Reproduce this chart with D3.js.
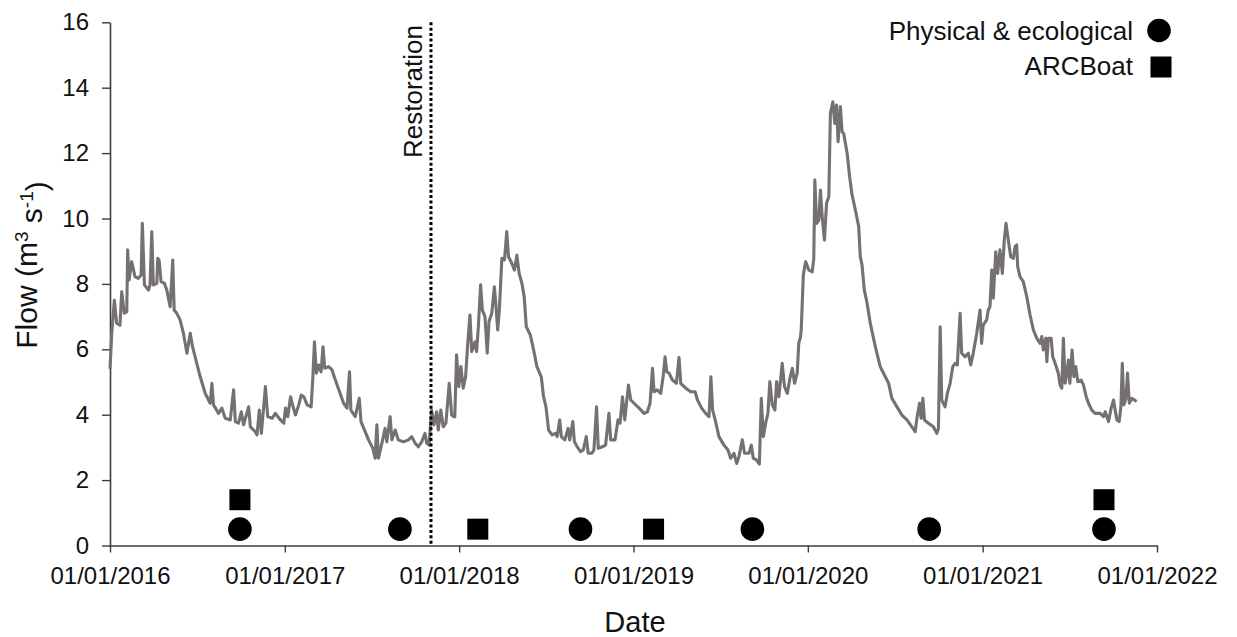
<!DOCTYPE html>
<html>
<head>
<meta charset="utf-8">
<script src="https://cdn.jsdelivr.net/npm/d3@7"></script>
<style>
  html, body { margin: 0; padding: 0; background: #fff; }
  svg { display: block; font-family: "Liberation Sans", Arial, sans-serif; }
</style>
</head>
<body>
<svg id="chart" width="1237" height="637"></svg>
<script>
// Daily river flow (m3 s-1), as [decimal year, flow] pairs, one list per year
const flow2016 = [
  [2016.000, 5.40], [2016.010, 6.49], [2016.025, 7.50], [2016.038, 6.80], [2016.057, 6.74],
  [2016.067, 7.76], [2016.082, 7.10], [2016.096, 7.15], [2016.101, 9.04], [2016.109, 8.12],
  [2016.124, 8.68], [2016.143, 8.22], [2016.162, 8.17], [2016.178, 8.27], [2016.185, 9.85],
  [2016.197, 7.97], [2016.220, 7.81], [2016.229, 7.97], [2016.239, 9.60], [2016.248, 7.97],
  [2016.268, 8.02], [2016.273, 8.78], [2016.281, 8.73], [2016.292, 8.07], [2016.311, 8.02],
  [2016.325, 7.81], [2016.344, 7.30], [2016.359, 8.73], [2016.367, 7.20], [2016.382, 7.10],
  [2016.401, 6.90], [2016.420, 6.49], [2016.440, 5.88], [2016.459, 6.49], [2016.472, 6.08],
  [2016.487, 5.77], [2016.516, 5.16], [2016.545, 4.65], [2016.573, 4.35], [2016.583, 4.96],
  [2016.592, 4.30], [2016.621, 4.04], [2016.640, 4.20], [2016.659, 3.89], [2016.688, 3.84],
  [2016.707, 4.76], [2016.717, 3.79], [2016.735, 3.74], [2016.751, 4.09], [2016.764, 3.69],
  [2016.793, 4.24], [2016.803, 3.63], [2016.831, 3.48], [2016.841, 3.38], [2016.854, 4.14],
  [2016.866, 3.43], [2016.889, 4.86], [2016.902, 3.94], [2016.927, 3.89], [2016.946, 4.04],
  [2016.975, 3.84], [2016.994, 3.74]
];
const flow2017 = [
  [2017.004, 4.20], [2017.017, 3.94], [2017.033, 4.55], [2017.042, 4.35], [2017.061, 3.99],
  [2017.080, 4.30], [2017.094, 4.60], [2017.109, 4.55], [2017.128, 4.30], [2017.151, 4.24],
  [2017.160, 5.06], [2017.170, 6.23], [2017.181, 5.27], [2017.194, 5.52], [2017.208, 5.31],
  [2017.219, 6.08], [2017.229, 5.42], [2017.251, 5.47], [2017.271, 5.37], [2017.290, 5.06],
  [2017.314, 4.70], [2017.337, 4.35], [2017.357, 4.20], [2017.371, 5.31], [2017.379, 4.14],
  [2017.404, 3.94], [2017.427, 4.50], [2017.437, 3.79], [2017.461, 3.48], [2017.480, 3.23],
  [2017.505, 2.97], [2017.518, 2.67], [2017.528, 3.69], [2017.537, 2.67], [2017.557, 3.13],
  [2017.575, 3.58], [2017.585, 3.17], [2017.604, 3.94], [2017.614, 3.23], [2017.633, 3.53],
  [2017.651, 3.23], [2017.680, 3.17], [2017.709, 3.23], [2017.728, 3.33], [2017.747, 3.13],
  [2017.766, 3.02], [2017.785, 3.17], [2017.804, 3.43], [2017.814, 3.13], [2017.827, 3.07],
  [2017.842, 4.14], [2017.855, 3.69], [2017.871, 4.09], [2017.880, 3.53], [2017.895, 4.14],
  [2017.909, 3.63], [2017.924, 3.74], [2017.943, 4.96], [2017.957, 3.99], [2017.970, 3.94],
  [2017.975, 3.94], [2017.985, 5.83], [2017.998, 4.86]
];
const flow2018 = [
  [2018.010, 5.47], [2018.023, 4.81], [2018.037, 5.16], [2018.048, 6.08], [2018.062, 7.05],
  [2018.072, 5.93], [2018.091, 6.23], [2018.100, 5.93], [2018.110, 6.69], [2018.123, 7.97],
  [2018.133, 7.20], [2018.148, 7.00], [2018.161, 5.88], [2018.171, 6.84], [2018.187, 7.10],
  [2018.202, 7.91], [2018.210, 7.41], [2018.221, 6.59], [2018.231, 7.25], [2018.245, 8.78],
  [2018.260, 8.73], [2018.273, 9.60], [2018.283, 8.83], [2018.302, 8.63], [2018.317, 8.42],
  [2018.331, 8.88], [2018.344, 8.32], [2018.360, 8.02], [2018.373, 7.61], [2018.385, 6.69],
  [2018.408, 6.44], [2018.427, 5.98], [2018.446, 5.47], [2018.471, 5.16], [2018.484, 4.55],
  [2018.498, 4.24], [2018.513, 3.53], [2018.533, 3.38], [2018.552, 3.43], [2018.562, 3.33],
  [2018.577, 3.84], [2018.586, 3.33], [2018.606, 3.23], [2018.625, 3.58], [2018.634, 3.23],
  [2018.652, 3.79], [2018.661, 3.17], [2018.677, 3.02], [2018.696, 2.87], [2018.712, 2.92],
  [2018.729, 3.33], [2018.740, 2.82], [2018.760, 2.82], [2018.773, 2.92], [2018.788, 4.24],
  [2018.798, 2.97], [2018.821, 3.02], [2018.840, 3.07], [2018.859, 4.04], [2018.869, 3.23],
  [2018.894, 3.23], [2018.911, 3.84], [2018.923, 3.74], [2018.937, 4.55], [2018.950, 3.84],
  [2018.971, 4.91], [2018.984, 4.45]
];
const flow2019 = [
  [2019.003, 4.35], [2019.032, 4.20], [2019.061, 4.04], [2019.080, 4.09], [2019.095, 4.35],
  [2019.109, 5.42], [2019.118, 4.70], [2019.137, 4.76], [2019.156, 4.65], [2019.170, 5.16],
  [2019.181, 5.77], [2019.191, 5.31], [2019.204, 5.27], [2019.223, 5.06], [2019.246, 4.96],
  [2019.261, 5.75], [2019.271, 4.96], [2019.300, 4.81], [2019.328, 4.70], [2019.353, 4.70],
  [2019.367, 4.45], [2019.391, 4.20], [2019.414, 4.04], [2019.433, 3.94], [2019.444, 5.16],
  [2019.454, 4.14], [2019.471, 3.79], [2019.490, 3.33], [2019.519, 3.07], [2019.542, 2.92],
  [2019.557, 2.67], [2019.576, 2.82], [2019.592, 2.51], [2019.605, 2.72], [2019.624, 3.23],
  [2019.637, 2.82], [2019.662, 2.82], [2019.676, 3.07], [2019.687, 2.67], [2019.706, 2.61],
  [2019.722, 2.49], [2019.733, 4.50], [2019.745, 3.33], [2019.758, 3.74], [2019.771, 4.04],
  [2019.782, 5.01], [2019.796, 4.30], [2019.811, 4.14], [2019.821, 5.01], [2019.834, 4.55],
  [2019.853, 5.57], [2019.866, 4.86], [2019.882, 4.65], [2019.897, 5.11], [2019.911, 5.42],
  [2019.924, 4.96], [2019.939, 5.27], [2019.948, 6.18], [2019.958, 6.39], [2019.962, 6.59],
  [2019.974, 8.27], [2019.987, 8.68]
];
const flow2020 = [
  [2020.006, 8.42], [2020.025, 8.37], [2020.034, 8.78], [2020.040, 11.18], [2020.050, 9.85],
  [2020.063, 9.95], [2020.072, 10.87], [2020.082, 10.05], [2020.095, 9.34], [2020.107, 10.46],
  [2020.120, 10.67], [2020.129, 13.22], [2020.143, 13.57], [2020.154, 12.91], [2020.164, 13.47],
  [2020.173, 12.35], [2020.186, 13.42], [2020.196, 12.65], [2020.205, 12.60], [2020.225, 11.99],
  [2020.239, 11.28], [2020.253, 10.72], [2020.272, 10.26], [2020.291, 9.75], [2020.300, 8.83],
  [2020.310, 8.58], [2020.323, 7.81], [2020.339, 7.41], [2020.357, 6.80], [2020.386, 6.08],
  [2020.414, 5.47], [2020.443, 5.16], [2020.462, 4.96], [2020.481, 4.50], [2020.510, 4.24],
  [2020.538, 3.99], [2020.567, 3.84], [2020.595, 3.63], [2020.614, 3.48], [2020.624, 3.89],
  [2020.639, 4.35], [2020.648, 3.89], [2020.658, 4.50], [2020.667, 3.84], [2020.690, 3.74],
  [2020.718, 3.63], [2020.738, 3.43], [2020.747, 3.58], [2020.757, 6.69], [2020.766, 4.45],
  [2020.785, 4.24], [2020.798, 4.65], [2020.814, 4.96], [2020.829, 5.47], [2020.842, 5.57],
  [2020.855, 5.52], [2020.871, 7.10], [2020.880, 5.88], [2020.899, 5.77], [2020.918, 5.88],
  [2020.932, 5.52], [2020.946, 5.88], [2020.966, 6.49], [2020.985, 7.20], [2020.994, 6.18]
];
const flow2021 = [
  [2021.003, 6.74], [2021.023, 6.90], [2021.032, 7.20], [2021.042, 7.30], [2021.052, 8.42],
  [2021.061, 7.56], [2021.075, 8.98], [2021.086, 8.32], [2021.099, 9.04], [2021.113, 8.32],
  [2021.124, 9.34], [2021.134, 9.85], [2021.147, 9.34], [2021.161, 8.83], [2021.176, 8.78],
  [2021.186, 9.14], [2021.195, 9.19], [2021.201, 8.53], [2021.214, 8.22], [2021.233, 8.07],
  [2021.253, 7.61], [2021.272, 7.05], [2021.291, 6.59], [2021.310, 6.34], [2021.329, 6.18],
  [2021.339, 6.39], [2021.348, 5.98], [2021.362, 6.34], [2021.368, 5.62], [2021.377, 6.34],
  [2021.393, 6.34], [2021.402, 5.77], [2021.416, 5.57], [2021.434, 5.27], [2021.444, 4.91],
  [2021.454, 4.81], [2021.463, 6.34], [2021.473, 4.96], [2021.483, 5.27], [2021.492, 5.67],
  [2021.500, 4.96], [2021.513, 5.98], [2021.523, 5.16], [2021.534, 5.47], [2021.546, 5.01],
  [2021.565, 5.06], [2021.578, 4.91], [2021.594, 4.55], [2021.607, 4.35], [2021.626, 4.14],
  [2021.645, 4.04], [2021.674, 4.04], [2021.693, 3.94], [2021.703, 4.09], [2021.722, 3.79],
  [2021.737, 4.20], [2021.751, 4.45], [2021.760, 4.14], [2021.770, 3.84], [2021.783, 3.79],
  [2021.793, 4.24], [2021.801, 5.57], [2021.810, 4.30], [2021.822, 4.50], [2021.831, 5.27],
  [2021.841, 4.35], [2021.856, 4.50], [2021.871, 4.45], [2021.883, 4.40]
];

// Survey dates
const physicalDates = ["2016-09-29", "2017-08-30", "2018-09-12", "2019-09-07", "2020-09-11", "2021-09-12"];
const physicalLevel = [0.5, 0.5, 0.5, 0.5, 0.5, 0.5];
const arcboatDates = ["2016-09-29", "2018-02-09", "2019-02-12", "2021-09-12"];
const arcboatLevel = [1.4, 0.5, 0.5, 1.4];
const restorationDate = "2017-11-03";

// Axis settings
const yTicks = [0, 2, 4, 6, 8, 10, 12, 14, 16];
const xStart = "2016-01-01";
const xEnd = "2022-01-01";
const legendLabels = ["Physical & ecological", "ARCBoat"];

const parseDay = d3.utcParse("%Y-%m-%d");
function fromDecimalYear(v) {
  const yr = Math.floor(v);
  const a = Date.UTC(yr, 0, 1), b = Date.UTC(yr + 1, 0, 1);
  return new Date(a + (v - yr) * (b - a));
}

const flowSeries = [].concat(flow2016, flow2017, flow2018, flow2019, flow2020, flow2021)
  .map(([t, q]) => ({ date: fromDecimalYear(t), q }));

const svg = d3.select("#chart");
const plot = { left: 110, right: 1157, top: 22.3, bottom: 545.5 };

const x = d3.scaleUtc()
  .domain([parseDay(xStart), parseDay(xEnd)])
  .range([plot.left, plot.right]);
const y = d3.scaleLinear()
  .domain([0, 16])
  .range([plot.bottom, plot.top]);

const axisColor = "#3c3c3c";
const textColor = "#111";

// X axis
const gx = svg.append("g")
  .attr("transform", `translate(0,${plot.bottom})`)
  .call(d3.axisBottom(x)
    .ticks(d3.utcYear.every(1))
    .tickFormat(d3.utcFormat("%d/%m/%Y"))
    .tickSize(7)
    .tickSizeOuter(0)
    .tickPadding(14));
gx.select(".domain").attr("stroke", axisColor).attr("stroke-width", 1.6);
gx.selectAll(".tick line").attr("stroke", axisColor).attr("stroke-width", 1.4);
gx.selectAll(".tick text")
  .attr("fill", textColor)
  .style("font-size", "24px")
  .style("font-family", "'Liberation Sans', Arial, sans-serif");

// Y axis
const gy = svg.append("g")
  .attr("transform", `translate(${plot.left},0)`)
  .call(d3.axisLeft(y)
    .tickValues(yTicks)
    .tickFormat(d3.format("d"))
    .tickSize(8)
    .tickSizeOuter(0)
    .tickPadding(13));
gy.select(".domain").attr("stroke", axisColor).attr("stroke-width", 1.6);
gy.selectAll(".tick line").attr("stroke", axisColor).attr("stroke-width", 1.4);
gy.selectAll(".tick text")
  .attr("fill", textColor)
  .style("font-size", "24px")
  .style("font-family", "'Liberation Sans', Arial, sans-serif");

// Axis titles
svg.append("text")
  .attr("x", 635)
  .attr("y", 632)
  .attr("text-anchor", "middle")
  .attr("fill", textColor)
  .style("font-size", "29px")
  .text("Date");

const yTitle = svg.append("text")
  .attr("transform", "translate(37,265) rotate(-90)")
  .attr("text-anchor", "middle")
  .attr("fill", textColor)
  .style("font-size", "30px");
yTitle.append("tspan").text("Flow (m");
yTitle.append("tspan").attr("dy", "-0.45em").style("font-size", "19px").text("3");
yTitle.append("tspan").attr("dy", "0.45em").text(" s");
yTitle.append("tspan").attr("dy", "-0.45em").style("font-size", "19px").text("-1");
yTitle.append("tspan").attr("dy", "0.45em").text(")");

// Flow line
const line = d3.line()
  .x(d => x(d.date))
  .y(d => y(d.q));
svg.append("path")
  .datum(flowSeries)
  .attr("d", line)
  .attr("fill", "none")
  .attr("stroke", "#767171")
  .attr("stroke-width", 3.1)
  .attr("stroke-linejoin", "round");

// Restoration marker
const rx = x(parseDay(restorationDate));
svg.append("line")
  .attr("x1", rx).attr("x2", rx)
  .attr("y1", y(16)).attr("y2", y(0))
  .attr("stroke", "#000")
  .attr("stroke-width", 3)
  .attr("stroke-dasharray", "3,2.4");
svg.append("text")
  .attr("transform", `translate(${rx - 9},158) rotate(-90)`)
  .attr("text-anchor", "start")
  .attr("fill", textColor)
  .style("font-size", "26px")
  .text("Restoration");

// Survey markers
const circleR = 11.8;
const squareS = 21;
svg.append("g").selectAll("circle")
  .data(physicalDates.map((d, i) => ({ date: parseDay(d), v: physicalLevel[i] })))
  .join("circle")
  .attr("cx", d => x(d.date))
  .attr("cy", d => y(d.v))
  .attr("r", circleR)
  .attr("fill", "#000");

svg.append("g").selectAll("rect")
  .data(arcboatDates.map((d, i) => ({ date: parseDay(d), v: arcboatLevel[i] })))
  .join("rect")
  .attr("x", d => x(d.date) - squareS / 2)
  .attr("y", d => y(d.v) - squareS / 2)
  .attr("width", squareS)
  .attr("height", squareS)
  .attr("fill", "#000");

// Legend
const legend = svg.append("g");
legend.append("text")
  .attr("x", 1133).attr("y", 40)
  .attr("text-anchor", "end")
  .attr("fill", textColor)
  .style("font-size", "26px")
  .text(legendLabels[0]);
legend.append("circle")
  .attr("cx", 1159).attr("cy", 30.5)
  .attr("r", circleR)
  .attr("fill", "#000");
legend.append("text")
  .attr("x", 1133).attr("y", 75)
  .attr("text-anchor", "end")
  .attr("fill", textColor)
  .style("font-size", "26px")
  .text(legendLabels[1]);
legend.append("rect")
  .attr("x", 1150.5).attr("y", 56.5)
  .attr("width", squareS).attr("height", squareS)
  .attr("fill", "#000");
</script>
</body>
</html>
